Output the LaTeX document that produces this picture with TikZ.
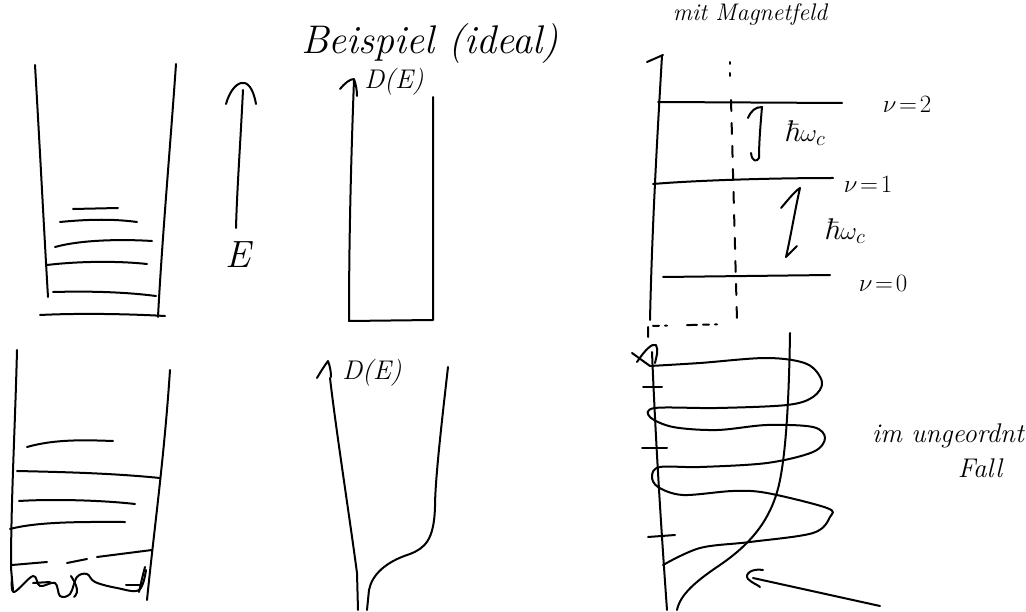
\documentclass[tikz,border=0pt]{standalone}
\usepackage{amssymb}
\begin{document}
\begin{tikzpicture}[x=1pt,y=-1pt,line width=2pt,line cap=round,line join=round,
  hand/.style={font=\itshape\fontsize{30}{32}\selectfont,inner sep=0pt},
  mid/.style={font=\itshape\fontsize{27}{29}\selectfont,inner sep=0pt},
  small/.style={font=\itshape\fontsize{24}{26}\selectfont,inner sep=0pt},
  dsh/.style={dash pattern=on 11pt off 12pt}]
\useasboundingbox (0,0) rectangle (1026,612);
\fill[white] (0,0) rectangle (1026,612);
% ---------- top left well
\draw (35,65) .. controls (40,150) and (44,230) .. (48,297);
\draw (176,64) .. controls (170,150) and (162,240) .. (158,317);
\draw (73,209) -- (118,208);
\draw (60,222) .. controls (90,219) and (115,219) .. (137,222);
\draw (55,247) .. controls (80,240) and (120,239) .. (152,241);
\draw (47,265) .. controls (80,261) and (120,261) .. (147,264);
\draw (53,292) .. controls (90,291) and (125,292) .. (156,296);
\draw (40,315) .. controls (80,313) and (130,314) .. (165,316);
% E axis
\draw (243,90) .. controls (240,150) and (237,190) .. (236,228);
\draw (226,104) .. controls (232,82) and (250,70) .. (256,104);
\node[font=\itshape\fontsize{38}{40}\selectfont,inner sep=0pt] (Elab) at (238,255) {E};
% ---------- title
\node[font=\itshape\fontsize{40}{42}\selectfont,inner sep=0pt] (title) at (430,44) {Beispiel (ideal)};
% ---------- middle top DOS
\draw (354,80) .. controls (351,160) and (349,240) .. (349,321) -- (433,320) -- (433,97);
\draw (340,89) .. controls (345,83) and (350,79) .. (354,79) .. controls (356,85) and (357,90) .. (357,96);
\node[mid] (D1) at (394,82) {D(E)};
% ---------- bottom left well
\draw (17,350) .. controls (15,430) and (11,500) .. (11,568) -- (13,590);
\draw (170,370) .. controls (164,460) and (154,530) .. (147,600);
\draw (27,447) .. controls (55,439) and (85,440) .. (113,441);
\draw (17,471) .. controls (60,472) and (110,473) .. (160,478);
\draw (19,501) .. controls (50,499) and (100,500) .. (135,504);
\draw (10,529) .. controls (40,521) and (90,522) .. (125,522);
\draw (12,565) -- (47,562);
\draw (67,563) -- (87,559);
\draw (97,557) -- (152,550);
\draw plot[smooth,tension=0.6] coordinates {(12,578) (14,592) (33,576) (40,586) (55,583) (60,596) (70,594) (77,577) (87,574) (95,582) (117,588) (139,590) (146,570)};
\draw (33,583) -- (50,582);
\draw (71,576) .. controls (76,584) and (80,592) .. (74,597);
\draw (126,585) -- (140,585);
\draw (145,567) .. controls (142,578) and (140,588) .. (139,592);
% ---------- bottom middle DOS
\draw (317,378) .. controls (321,371) and (325,365) .. (328,361) .. controls (330,366) and (331,372) .. (331,377);
\draw (330,378) .. controls (336,430) and (350,520) .. (357,573) -- (358,610);
\node[mid] (D2) at (372,373) {D(E)};
\draw (448,367) .. controls (442,420) and (435,480) .. (435,507)
      .. controls (434,540) and (425,548) .. (410,554)
      .. controls (385,562) and (372,575) .. (369,590) -- (367,610);
% ---------- top right: Landau levels
\node[small] (mag) at (750,15) {mit Magnetfeld};
\draw (662,56) .. controls (657,140) and (652,230) .. (650,320);
\draw (647,62) -- (663,55);
\draw (730,62) -- (730,64);
\draw (730,73) -- (730,76);
\draw[dsh] (731,100) -- (737,320);
\draw[dash pattern=on 10pt off 6pt on 6pt off 6pt on 2pt off 20pt] (648,337) -- (648,326) -- (735,324);
\draw (658,102) -- (842,103);
\draw (653,184) .. controls (700,180) and (780,178) .. (833,178);
\draw (663,277) -- (830,275);
\node[hand] (n2) at (907,104) {$\nu\!=\!2$};
\node[hand] (n1) at (868,184) {$\nu\!=\!1$};
\node[hand] (n0) at (883,283) {$\nu\!=\!0$};
% upper hbar omega arrow
\draw (748,118) .. controls (751,111) and (755,107) .. (762,107) .. controls (760,130) and (759,145) .. (759,158) .. controls (757,162) and (752,162) .. (751,153);
\node[hand] (hw1) at (805,133) {$\hbar\omega_c$};
% lower arrow
\draw (781,208) .. controls (788,200) and (794,192) .. (800,188) .. controls (795,210) and (791,235) .. (786,257) -- (797,246);
\node[hand] (hw2) at (845,231) {$\hbar\omega_c$};
% ---------- bottom right: disordered
\draw (652,352) .. controls (656,450) and (662,540) .. (667,610);
\draw (632,353) -- (650,366);
\draw (637,362) .. controls (645,350) and (652,343) .. (656,345) .. controls (659,350) and (656,358) .. (655,363);
\draw (643,387) -- (662,387);
\draw (642,448) -- (667,448);
\draw (648,537) -- (675,535);
% clean DOS curve
\draw (790,333) .. controls (789,400) and (786,450) .. (780,480)
      .. controls (772,520) and (750,545) .. (717,567)
      .. controls (695,582) and (680,595) .. (677,610);
% oscillating curve
\draw plot[smooth,tension=0.55] coordinates {(650,366) (700,363) (767,358) (807,364) (822,382) (813,397) (787,405) (717,408) (655,408) (650,417) (673,427) (717,430) (767,425) (813,427) (825,438) (813,452) (767,463) (700,467) (660,467) (652,476) (658,487) (683,495) (733,491) (767,493) (827,508) (830,517) (813,533) (750,542) (700,548) (663,565)};
\node[font=\itshape\fontsize{27}{29}\selectfont,inner sep=0pt] (im) at (948,436) {im ungeordnt};
\node[font=\itshape\fontsize{27}{29}\selectfont,inner sep=0pt] (fall) at (980,468) {Fall};
% pointer arrow
\coordinate (pend) at (880,606);
\coordinate (ptip) at (753,578);
\draw (pend) -- (ptip);
\draw (763,570) .. controls (752,568) and (744,574) .. (748,579) .. controls (752,583) and (758,585) .. (760,587);
\end{tikzpicture}
\end{document}
